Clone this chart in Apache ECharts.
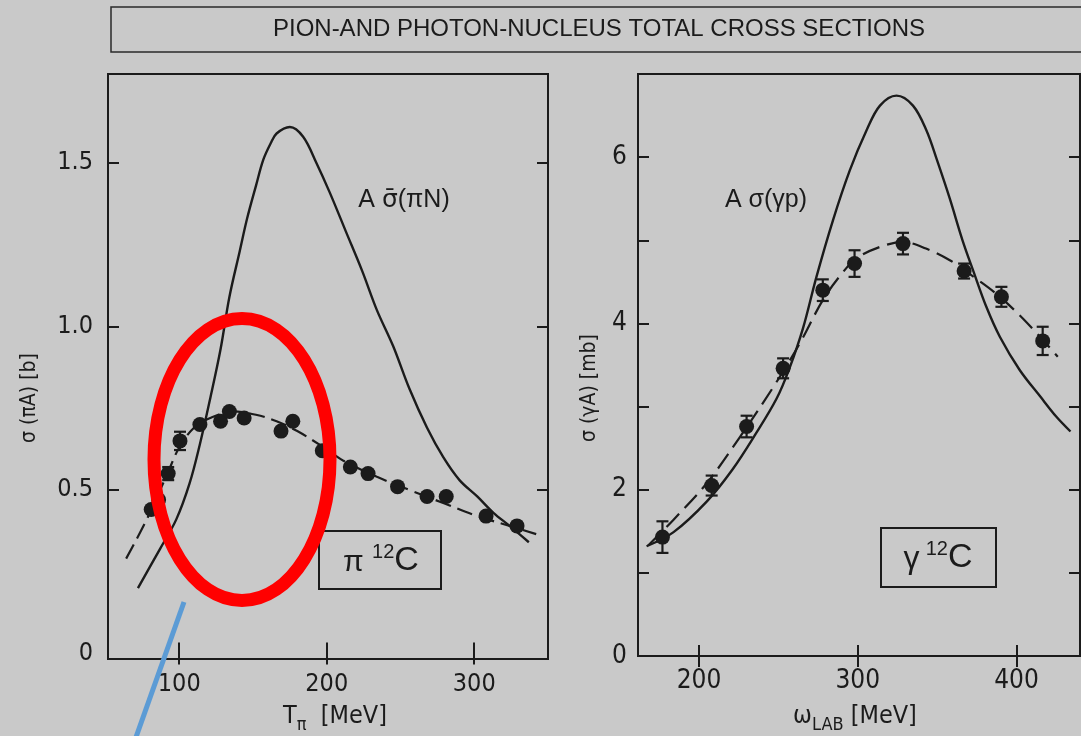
<!DOCTYPE html>
<html>
<head>
<meta charset="utf-8">
<script src="https://cdn.jsdelivr.net/npm/echarts@6/dist/echarts.min.js"></script>
<style>
  html, body { margin: 0; padding: 0; background: #c9c9c9; }
  #chart { width: 1081px; height: 736px; }
</style>
</head>
<body>
<div id="chart"></div>
<script>
// ---- pion - 12C (left panel) ----
const piTheoryE = [72, 87, 98, 107, 114, 121, 128, 134, 141, 146, 152, 157, 162, 166, 175, 184, 193, 202, 213, 224, 234, 245, 256, 268, 279, 290, 302, 313, 324, 337];
const piTheorySigma = [0.20, 0.32, 0.41, 0.52, 0.64, 0.78, 0.93, 1.09, 1.23, 1.33, 1.43, 1.51, 1.56, 1.59, 1.61, 1.58, 1.50, 1.41, 1.29, 1.17, 1.05, 0.94, 0.81, 0.69, 0.60, 0.53, 0.48, 0.43, 0.39, 0.34];
const piFitE = [64, 78, 92, 100, 110, 121, 137, 152, 166, 180, 198, 211, 234, 256, 279, 302, 324, 342];
const piFitSigma = [0.29, 0.41, 0.55, 0.63, 0.69, 0.72, 0.74, 0.73, 0.71, 0.68, 0.63, 0.59, 0.54, 0.50, 0.46, 0.42, 0.39, 0.365];
const piDataE = [81, 86, 92.5, 100.5, 114, 128, 134, 144, 169, 177, 197, 216, 228, 248, 268, 281, 308, 329];
const piDataSigma = [0.44, 0.47, 0.55, 0.65, 0.70, 0.71, 0.74, 0.72, 0.68, 0.71, 0.62, 0.57, 0.55, 0.51, 0.48, 0.48, 0.42, 0.39];
const piDataErr = [0, 0, 0.02, 0.028, 0, 0, 0, 0, 0, 0, 0, 0, 0, 0, 0, 0, 0, 0];
const piXTicks = [100, 200, 300];
const piYLabels = [0, 0.5, 1.0, 1.5];
const piYTicks = [0.5, 1.0, 1.5];

// ---- photon - 12C (right panel) ----
const gTheoryE = [167, 184, 205, 221, 236, 249, 257, 265.5, 274, 284.4, 295, 305.5, 314, 324.4, 334.8, 343.3, 350, 358, 366, 373, 381, 389.5, 402, 415, 425, 434];
const gTheorySigma = [1.32, 1.49, 1.86, 2.24, 2.68, 3.10, 3.46, 3.94, 4.56, 5.24, 5.84, 6.32, 6.62, 6.74, 6.62, 6.32, 5.96, 5.50, 5.00, 4.62, 4.20, 3.84, 3.44, 3.12, 2.88, 2.70];
const gFitE = [168, 184, 205, 226, 247, 263.5, 278, 290, 299, 314, 328.5, 343, 358, 373, 387, 404, 426];
const gFitSigma = [1.33, 1.64, 2.08, 2.64, 3.24, 3.76, 4.28, 4.60, 4.78, 4.92, 4.98, 4.90, 4.76, 4.56, 4.36, 4.06, 3.60];
const gDataE = [177, 208, 230, 253, 278, 298, 328.5, 367, 390.5, 416.5];
const gDataSigma = [1.43, 2.05, 2.76, 3.46, 4.40, 4.72, 4.96, 4.63, 4.32, 3.79];
const gDataErr = [0.19, 0.12, 0.13, 0.12, 0.13, 0.16, 0.13, 0.09, 0.12, 0.17];
const gXTicks = [200, 300, 400];
const gYLabels = [0, 2, 4, 6];
const gYTicks = [1, 2, 3, 4, 5, 6];

const INK = '#1b1b1b';
const NARROW = "'Liberation Sans Narrow', 'DejaVu Sans Condensed', sans-serif";
const SANS = "'Liberation Sans', Arial, sans-serif";

const zip = (a, b, c) => a.map((v, i) => c ? [v, b[i], c[i]] : [v, b[i]]);

function axis(gridIndex, position, min, max, ticks, labels, fontSize, margin, fmt) {
  return {
    type: 'value', gridIndex, position, min, max,
    axisLine: { show: false },
    splitLine: { show: false },
    axisTick: {
      show: ticks.length > 0, inside: true, length: 11,
      customValues: ticks,
      lineStyle: { color: INK, width: 2 }
    },
    axisLabel: {
      show: labels.length > 0,
      customValues: labels,
      margin, color: INK, fontSize, fontFamily: NARROW,
      formatter: fmt || (v => String(v))
    }
  };
}

function errorBars(params, api) {
  const x = api.value(0), y = api.value(1), e = api.value(2);
  if (!e) return;
  const hi = api.coord([x, y + e]);
  const lo = api.coord([x, y - e]);
  const w = 6;
  const st = { stroke: INK, lineWidth: 2.2 };
  return {
    type: 'group',
    children: [
      { type: 'line', shape: { x1: hi[0], y1: hi[1], x2: lo[0], y2: lo[1] }, style: st },
      { type: 'line', shape: { x1: hi[0] - w, y1: hi[1], x2: hi[0] + w, y2: hi[1] }, style: st },
      { type: 'line', shape: { x1: lo[0] - w, y1: lo[1], x2: lo[0] + w, y2: lo[1] }, style: st }
    ]
  };
}

const chart = echarts.init(document.getElementById('chart'));

const option = {
  backgroundColor: '#c9c9c9',
  animation: false,
  grid: [
    { left: 108, right: 533, top: 74, bottom: 77, show: true, borderColor: INK, borderWidth: 2 },
    { left: 638, right: 1, top: 74, bottom: 80, show: true, borderColor: INK, borderWidth: 2 }
  ],
  xAxis: [
    axis(0, 'bottom', 51.7, 350, piXTicks, piXTicks, 25, 13),
    axis(0, 'top', 51.7, 350, piXTicks, [], 25, 13),
    axis(1, 'bottom', 161.6, 440, gXTicks, gXTicks, 26, 12),
    axis(1, 'top', 161.6, 440, gXTicks, [], 26, 12)
  ],
  yAxis: [
    axis(0, 'left', -0.017, 1.772, piYTicks, piYLabels, 25, 15, v => v === 0 ? '0' : v.toFixed(1)),
    axis(0, 'right', -0.017, 1.772, piYTicks, [], 25, 15),
    axis(1, 'left', 0, 7, gYTicks, gYLabels, 26, 11),
    axis(1, 'right', 0, 7, gYTicks, [], 26, 11)
  ],
  series: [
    {
      type: 'line', xAxisIndex: 0, yAxisIndex: 0, data: zip(piTheoryE, piTheorySigma),
      smooth: 0.35, showSymbol: false, lineStyle: { color: INK, width: 2.4 }
    },
    {
      type: 'line', xAxisIndex: 0, yAxisIndex: 0, data: zip(piFitE, piFitSigma),
      smooth: 0.35, showSymbol: false, lineStyle: { color: INK, width: 2.2, type: [16, 7] }
    },
    {
      type: 'custom', xAxisIndex: 0, yAxisIndex: 0, data: zip(piDataE, piDataSigma, piDataErr),
      renderItem: errorBars, encode: { x: 0, y: 1 }, z: 3
    },
    {
      type: 'scatter', xAxisIndex: 0, yAxisIndex: 0, data: zip(piDataE, piDataSigma),
      symbolSize: 15, itemStyle: { color: INK, opacity: 1 }, z: 4
    },
    {
      type: 'line', xAxisIndex: 2, yAxisIndex: 2, data: zip(gTheoryE, gTheorySigma),
      smooth: 0.35, showSymbol: false, lineStyle: { color: INK, width: 2.4 }
    },
    {
      type: 'line', xAxisIndex: 2, yAxisIndex: 2, data: zip(gFitE, gFitSigma),
      smooth: 0.35, showSymbol: false, lineStyle: { color: INK, width: 2.2, type: [18, 8] }
    },
    {
      type: 'custom', xAxisIndex: 2, yAxisIndex: 2, data: zip(gDataE, gDataSigma, gDataErr),
      renderItem: errorBars, encode: { x: 0, y: 1 }, z: 3
    },
    {
      type: 'scatter', xAxisIndex: 2, yAxisIndex: 2, data: zip(gDataE, gDataSigma),
      symbolSize: 15, itemStyle: { color: INK, opacity: 1 }, z: 4
    }
  ],
  graphic: [
    // title box
    { type: 'rect', shape: { x: 111, y: 7, width: 1000, height: 45 }, style: { fill: 'none', stroke: '#2a2a2a', lineWidth: 1.5 } },
    { type: 'text', x: 599, y: 29, style: { text: 'PION-AND PHOTON-NUCLEUS TOTAL CROSS SECTIONS', font: '24px ' + SANS, fill: INK, align: 'center', verticalAlign: 'middle' } },
    // curve labels
    {
      type: 'text', x: 404, y: 200,
      style: {
        text: 'A {o|σ\u0304}(πN)', font: '25px ' + SANS, fill: INK, align: 'center', verticalAlign: 'middle',
        rich: { o: { fontSize: 25, fontFamily: "'DejaVu Sans', sans-serif" } }
      }
    },
    { type: 'text', x: 766, y: 200, style: { text: 'A σ(γp)', font: '25px ' + SANS, fill: INK, align: 'center', verticalAlign: 'middle' } },
    // reaction boxes
    { type: 'rect', shape: { x: 319, y: 531, width: 122, height: 58 }, style: { fill: 'none', stroke: INK, lineWidth: 2 } },
    { type: 'rect', shape: { x: 881, y: 528, width: 115, height: 59 }, style: { fill: 'none', stroke: INK, lineWidth: 2 } },
    {
      type: 'text', x: 381, y: 560,
      style: {
        text: '{g|π}{sp| }{s|12}{c|C}', align: 'center', verticalAlign: 'middle', fill: INK,
        rich: {
          g: { fontSize: 30, fontFamily: SANS, lineHeight: 36, verticalAlign: 'bottom' },
          sp: { fontSize: 30, fontFamily: SANS, lineHeight: 36 },
          s: { fontSize: 20, fontFamily: SANS, lineHeight: 36, verticalAlign: 'top' },
          c: { fontSize: 34, fontFamily: SANS, lineHeight: 36, verticalAlign: 'bottom' }
        }
      }
    },
    {
      type: 'text', x: 938, y: 557,
      style: {
        text: '{g|γ}{sp| }{s|12}{c|C}', align: 'center', verticalAlign: 'middle', fill: INK,
        rich: {
          g: { fontSize: 32, fontFamily: SANS, lineHeight: 36, verticalAlign: 'bottom' },
          sp: { fontSize: 22, fontFamily: SANS, lineHeight: 36 },
          s: { fontSize: 20, fontFamily: SANS, lineHeight: 36, verticalAlign: 'top' },
          c: { fontSize: 34, fontFamily: SANS, lineHeight: 36, verticalAlign: 'bottom' }
        }
      }
    },
    // axis names
    { type: 'text', x: 30, y: 398, rotation: Math.PI / 2, style: { text: 'σ (πA) [b]', font: '21px ' + NARROW, fill: INK, align: 'center', verticalAlign: 'middle' } },
    { type: 'text', x: 590, y: 388, rotation: Math.PI / 2, style: { text: 'σ (γA) [mb]', font: '21px ' + NARROW, fill: INK, align: 'center', verticalAlign: 'middle' } },
    {
      type: 'text', x: 335, y: 716,
      style: {
        text: 'T{sub|π}  [MeV]', align: 'center', verticalAlign: 'middle', fill: INK,
        rich: {
          sub: { fontSize: 18, fontFamily: NARROW, lineHeight: 36, verticalAlign: 'bottom' }
        },
        font: '25px ' + NARROW
      }
    },
    {
      type: 'text', x: 855, y: 716,
      style: {
        text: 'ω{sub|LAB} [MeV]', align: 'center', verticalAlign: 'middle', fill: INK,
        rich: {
          sub: { fontSize: 18, fontFamily: NARROW, lineHeight: 36, verticalAlign: 'bottom' }
        },
        font: '25px ' + NARROW
      }
    },
    // highlight marks
    { type: 'ellipse', z: 100, shape: { cx: 242, cy: 459.5, rx: 88, ry: 141 }, style: { fill: 'none', stroke: '#ff0000', lineWidth: 13 } },
    { type: 'line', z: 100, shape: { x1: 184, y1: 602, x2: 135, y2: 740 }, style: { stroke: '#5b9bd5', lineWidth: 5 } }
  ]
};

chart.setOption(option);
window.addEventListener('resize', () => chart.resize());
</script>
</body>
</html>
